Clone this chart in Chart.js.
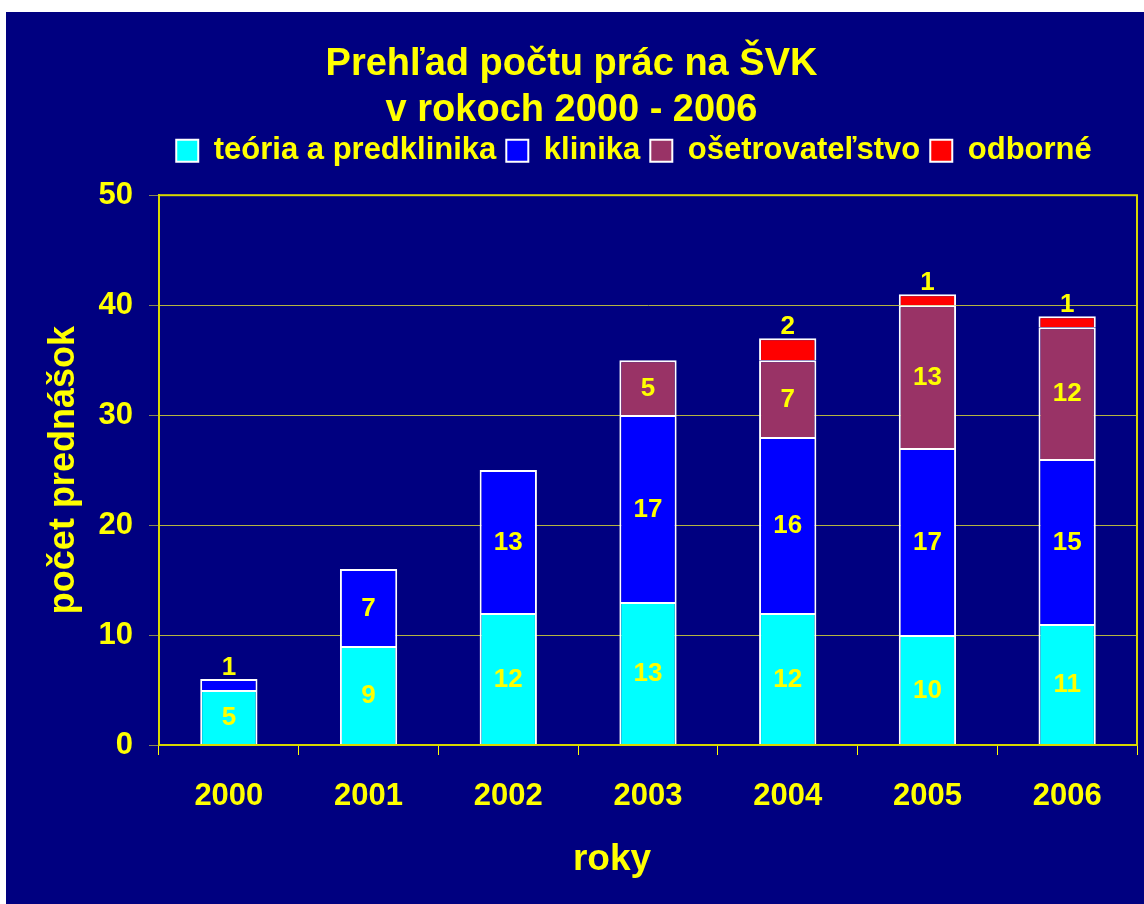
<!DOCTYPE html>
<html>
<head>
<meta charset="utf-8">
<script src="https://cdn.jsdelivr.net/npm/chart.js@4/dist/chart.umd.min.js"></script>
<style>
  body { margin: 0; background: #fff; }
  #obal { position: absolute; left: 6px; top: 12px; width: 1138px; height: 892px; background: #000080; }
</style>
</head>
<body>
<div id="obal"><canvas id="graf"></canvas></div>
<script>
const roky = ['2000', '2001', '2002', '2003', '2004', '2005', '2006'];
const teoria = [5, 9, 12, 13, 12, 10, 11];
const klinika = [1, 7, 13, 17, 16, 17, 15];
const osetrovatelstvo = [null, null, null, 5, 7, 13, 12];
const odborne = [null, null, null, null, 2, 1, 1];
const yTicky = [0, 10, 20, 30, 40, 50];

const zlta = '#ffff00';
const pismo = 'Liberation Sans, Arial, sans-serif';

// popisky hodnot v stlpcoch
const popisky = {
  id: 'popisky',
  afterDatasetsDraw(chart) {
    const ctx = chart.ctx;
    ctx.save();
    ctx.fillStyle = zlta;
    ctx.font = 'bold 26px ' + pismo;
    ctx.textAlign = 'center';
    chart.data.datasets.forEach((ds, i) => {
      chart.getDatasetMeta(i).data.forEach((el, j) => {
        const v = ds.data[j];
        if (v == null) return;
        const h = Math.abs(el.base - el.y);
        if (h < 25) {
          ctx.textBaseline = 'alphabetic';
          ctx.fillText(v, el.x, el.y - 4);
        } else {
          ctx.textBaseline = 'middle';
          ctx.fillText(v, el.x, (el.y + el.base) / 2 + 1);
        }
      });
    });
    ctx.restore();
  }
};

// zlty ramik okolo plochy grafu, medzera pod legendou a jej posun
const ramik = {
  id: 'ramik',
  afterInit(chart) {
    const fit = chart.legend.fit;
    chart.legend.fit = function () {
      fit.call(this);
      this.height += 19;
    };
  },
  afterLayout(chart) {
    chart.legend.left -= 14;
    chart.legend.right -= 14;
  },
  afterDraw(chart) {
    const a = chart.chartArea;
    const ctx = chart.ctx;
    ctx.save();
    ctx.strokeStyle = '#d8d800';
    ctx.lineWidth = 2;
    ctx.strokeRect(a.left, a.top, a.right - a.left, a.bottom - a.top);
    ctx.restore();
  }
};

function sada(nazov, data, farba) {
  return {
    label: nazov,
    data: data,
    backgroundColor: farba,
    borderColor: '#ffffff',
    borderWidth: 2,
    barPercentage: 0.41,
    categoryPercentage: 1
  };
}

new Chart(document.getElementById('graf'), {
  type: 'bar',
  data: {
    labels: roky,
    datasets: [
      sada('teória a predklinika', teoria, '#00ffff'),
      sada('klinika', klinika, '#0000ff'),
      sada('ošetrovateľstvo', osetrovatelstvo, '#993366'),
      sada('odborné', odborne, '#ff0000')
    ]
  },
  options: {
    responsive: true,
    maintainAspectRatio: false,
    animation: false,
    devicePixelRatio: 1,
    layout: { padding: { left: 0, right: 7, top: 0, bottom: 0 } },
    plugins: {
      title: {
        display: true,
        text: ['Prehľad počtu prác na ŠVK', 'v rokoch 2000 - 2006'],
        color: zlta,
        font: { family: pismo, size: 38, weight: 'bold', lineHeight: 1.2 },
        padding: { top: 30, bottom: -8 }
      },
      legend: {
        fullSize: false,
        labels: {
          color: zlta,
          font: { family: pismo, size: 31, weight: 'bold' },
          boxWidth: 22,
          boxHeight: 22,
          padding: 10
        }
      },
      tooltip: { enabled: false }
    },
    scales: {
      x: {
        stacked: true,
        afterFit(s) { s.height = 159; },
        grid: { drawOnChartArea: false, drawTicks: true, tickLength: 10, color: zlta, offset: true },
        border: { color: zlta, width: 2 },
        ticks: { color: zlta, font: { family: pismo, size: 31, weight: 'bold' }, padding: 23 },
        title: {
          display: true,
          text: 'roky       ',
          color: zlta,
          font: { family: pismo, size: 37, weight: 'bold' },
          padding: { top: 0, bottom: 22 }
        }
      },
      y: {
        stacked: true,
        min: 0,
        max: 50,
        afterFit(s) { s.width = 153; },
        afterBuildTicks(s) { s.ticks = yTicky.map(v => ({ value: v })); },
        grid: { color: '#b4b440', lineWidth: 1, tickLength: 10, tickColor: '#8a8a50' },
        border: { color: zlta, width: 2 },
        ticks: { color: zlta, font: { family: pismo, size: 31, weight: 'bold' }, padding: 16 },
        title: {
          display: true,
          text: 'počet prednášok',
          color: zlta,
          font: { family: pismo, size: 36, weight: 'bold' },
          padding: { top: 36, bottom: 0 }
        }
      }
    }
  },
  plugins: [popisky, ramik]
});
</script>
</body>
</html>
